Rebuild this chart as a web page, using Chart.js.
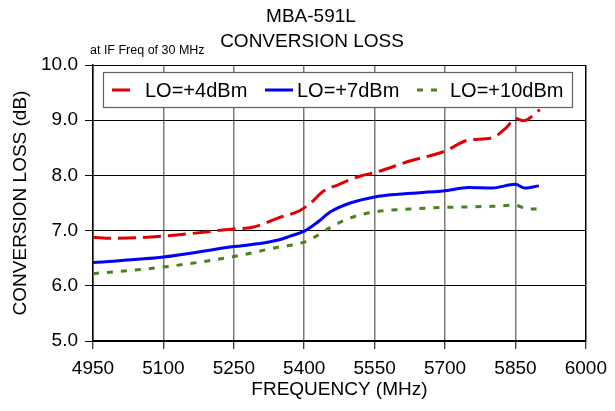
<!DOCTYPE html>
<html>
<head>
<meta charset="utf-8">
<script src="https://cdn.jsdelivr.net/npm/chart.js@4"></script>
<style>
html,body{margin:0;padding:0;background:#fff;}
canvas{display:block;}
</style>
</head>
<body>
<canvas id="c" width="615" height="411"></canvas>
<script>
const titleLines = ["MBA-591L", "CONVERSION LOSS"];
const subtitleText = "at IF Freq of 30 MHz";
const xTitle = "FREQUENCY (MHz)";
const yTitle = "CONVERSION LOSS (dB)";
const seriesNames = ["LO=+4dBm", "LO=+7dBm", "LO=+10dBm"];

const freqLO4 = [4950, 4990, 5100, 5250, 5290, 5345, 5390, 5415, 5442, 5472, 5520, 5550, 5625, 5700, 5750, 5800, 5830, 5850, 5867, 5902];
const lossLO4 = [6.88, 6.86, 6.90, 7.03, 7.06, 7.23, 7.36, 7.51, 7.72, 7.83, 7.99, 8.05, 8.26, 8.44, 8.64, 8.68, 8.86, 9.03, 8.99, 9.19];

const freqLO7 = [4950, 5100, 5250, 5300, 5345, 5370, 5400, 5428, 5456, 5498, 5550, 5600, 5700, 5750, 5800, 5850, 5870, 5900];
const lossLO7 = [6.42, 6.52, 6.71, 6.76, 6.83, 6.90, 6.99, 7.15, 7.34, 7.50, 7.61, 7.66, 7.72, 7.78, 7.77, 7.84, 7.77, 7.81];

const freqLO10 = [4950, 5100, 5250, 5344, 5400, 5428, 5456, 5498, 5550, 5625, 5700, 5800, 5850, 5871, 5895];
const lossLO10 = [6.22, 6.34, 6.53, 6.70, 6.79, 6.91, 7.06, 7.23, 7.34, 7.39, 7.42, 7.44, 7.46, 7.40, 7.39];

const xMin = 4950, xMax = 6000, xStep = 150;
const yMin = 5, yMax = 10, yStep = 1;

const FONT = "Arial, 'Liberation Sans', sans-serif";
const colors = ["#e00000", "#0000ff", "#4a8020"];
const dashes = [[18, 7], [], [6, 8]];

function pts(xs, ys) { return xs.map((x, i) => ({x: x, y: ys[i]})); }

const datasets = [
  {label: seriesNames[0], data: pts(freqLO4, lossLO4)},
  {label: seriesNames[1], data: pts(freqLO7, lossLO7)},
  {label: seriesNames[2], data: pts(freqLO10, lossLO10)}
].map((d, i) => Object.assign(d, {
  borderColor: colors[i], backgroundColor: colors[i], borderWidth: 3,
  borderDash: dashes[i], pointRadius: 0, fill: false,
  cubicInterpolationMode: 'monotone'
}));

const titlePlugin = {
  id: 'titles',
  afterDraw(chart) {
    const ctx = chart.ctx;
    ctx.save();
    ctx.fillStyle = '#000';
    ctx.textAlign = 'center';
    ctx.textBaseline = 'alphabetic';
    ctx.font = "19px " + FONT;
    ctx.fillText(titleLines[0], 311, 22);
    ctx.fillText(titleLines[1], 312, 47);
    ctx.textAlign = 'left';
    ctx.font = "12.5px " + FONT;
    ctx.fillText(subtitleText, 90, 54);
    ctx.restore();
  }
};

const legendPlugin = {
  id: 'boxLegend',
  afterDatasetsDraw(chart) {
    const ctx = chart.ctx;
    const x0 = 103, y0 = 72, w = 469, h = 35;
    ctx.save();
    ctx.fillStyle = '#fff';
    ctx.fillRect(x0, y0, w, h);
    ctx.strokeStyle = '#606060';
    ctx.lineWidth = 1.2;
    ctx.strokeRect(x0 + 0.5, y0 + 0.5, w, h);
    const cy = y0 + 18;
    const items = [
      {sx: 112, ex: 130, tx: 145},
      {sx: 265, ex: 293, tx: 297},
      {sx: 417, ex: 441, tx: 450}
    ];
    ctx.font = "20px " + FONT;
    ctx.textBaseline = 'middle';
    ctx.textAlign = 'left';
    items.forEach((it, i) => {
      ctx.strokeStyle = colors[i];
      ctx.lineWidth = 3;
      ctx.setLineDash(dashes[i]);
      ctx.beginPath();
      ctx.moveTo(it.sx, cy);
      ctx.lineTo(it.ex, cy);
      ctx.stroke();
      ctx.setLineDash([]);
      ctx.fillStyle = '#000';
      ctx.fillText(seriesNames[i], it.tx, cy + 1);
    });
    ctx.restore();
  }
};

new Chart(document.getElementById('c'), {
  type: 'line',
  data: {datasets: datasets},
  options: {
    responsive: false,
    devicePixelRatio: 1,
    animation: false,
    layout: {padding: {top: 65, right: 24, bottom: 0, left: 0}},
    plugins: {legend: {display: false}, title: {display: false}, tooltip: {enabled: false}},
    scales: {
      x: {
        type: 'linear', min: xMin, max: xMax,
        afterFit(s) { s.height = 70; },
        ticks: {stepSize: xStep, autoSkip: false, maxRotation: 0, color: '#000', padding: 8,
          font: {family: FONT, size: 19}, callback: v => String(v)},
        grid: {color: ctx => (ctx.tick && ctx.tick.value === xMax) ? '#000' : '#7a7a7a',
          lineWidth: 1.5, tickColor: '#000', tickLength: 8, tickWidth: 1},
        border: {color: '#000', width: 2},
        title: {display: true, text: xTitle, color: '#000', font: {family: FONT, size: 19},
          padding: {top: 0, bottom: 10}}
      },
      y: {
        type: 'linear', min: yMin, max: yMax,
        afterFit(s) { s.width = 93; },
        ticks: {stepSize: yStep, color: '#000', padding: 7,
          font: {family: FONT, size: 19}, callback: v => Number(v).toFixed(1)},
        grid: {color: '#000', lineWidth: 1, tickColor: '#000', tickLength: 8},
        border: {color: '#000', width: 1.5},
        title: {display: true, text: yTitle, color: '#000', font: {family: FONT, size: 19},
          padding: {top: 9, bottom: 0}}
      }
    }
  },
  plugins: [titlePlugin, legendPlugin]
});
</script>
</body>
</html>
